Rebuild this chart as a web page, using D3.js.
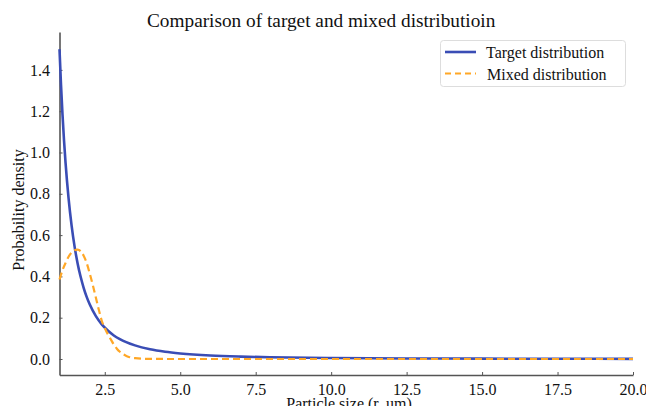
<!DOCTYPE html>
<html><head><meta charset="utf-8">
<script src="https://cdn.jsdelivr.net/npm/d3@7"></script>
<style>body{margin:0;background:#fff}svg{display:block}text{font-family:"Liberation Serif","Times New Roman",serif;fill:#111}</style>
</head><body><svg id="c" width="646" height="406"></svg>
<script>
const title = "Comparison of target and mixed distributioin";
const xLabel = "Particle size (r, um)";
const yLabel = "Probability density";
const xTicks = [2.5,5.0,7.5,10.0,12.5,15.0,17.5,20.0];
const yTicks = [0.0,0.2,0.4,0.6,0.8,1.0,1.2,1.4];
const seriesNames = ["Target distribution","Mixed distribution"];
const targetX = [1.0,1.05,1.1,1.15,1.2,1.3,1.4,1.5,1.6,1.7,1.8,1.9,2.0,2.2,2.4,2.6,2.8,3.0,3.5,4.0,4.5,5.0,6.0,7.0,8.0,10.0,12.5,15.0,17.5,20.0];
const targetY = [1.5,1.328,1.182,1.058,0.951,0.779,0.647,0.544,0.463,0.398,0.345,0.301,0.265,0.209,0.168,0.138,0.114,0.096,0.066,0.047,0.035,0.027,0.017,0.0116,0.0083,0.0047,0.0027,0.0017,0.0012,0.0008];
const mixedX = [1.0,1.1,1.2,1.3,1.4,1.5,1.6,1.7,1.8,1.9,2.0,2.1,2.2,2.3,2.4,2.5,2.6,2.7,2.8,2.9,3.0,3.1,3.2,3.3,3.4,3.5,3.7,4.0,5.0,10.0,20.0];
const mixedY = [0.385,0.43,0.465,0.495,0.515,0.527,0.53,0.522,0.50,0.465,0.415,0.36,0.30,0.24,0.185,0.15,0.12,0.095,0.07,0.05,0.035,0.024,0.016,0.01,0.006,0.004,0.0015,0.0005,0.0,0.0,0.0];

const svg = d3.select("#c");
const x = d3.scaleLinear().domain([1,20]).range([59.5,633]);
const y = d3.scaleLinear().domain([-0.0775,1.5835]).range([375,32]);

const axisColor = "#555";
const gx = svg.append("g").attr("transform","translate(0,375)")
  .call(d3.axisBottom(x).tickValues(xTicks).tickFormat(d3.format(".1f")).tickSizeInner(-3).tickSizeOuter(0).tickPadding(8));
const gy = svg.append("g").attr("transform","translate(59.5,0)")
  .call(d3.axisLeft(y).tickValues(yTicks).tickFormat(d3.format(".1f")).tickSizeInner(-3).tickSizeOuter(0).tickPadding(9.5));
[gx,gy].forEach(g=>{
  g.select(".domain").attr("stroke",axisColor).attr("stroke-width",1.6);
  g.selectAll(".tick line").attr("stroke",axisColor).attr("stroke-width",1);
  g.selectAll(".tick text").attr("font-size",16).attr("fill","#111").attr("font-family",'"Liberation Serif",serif');
});
gx.selectAll(".tick text").attr("dy","0.75em");

const tData = targetX.map((v,i)=>[v,targetY[i]]);
const mData = mixedX.map((v,i)=>[v,mixedY[i]]);
const lineC = d3.line().curve(d3.curveMonotoneX).x(d=>x(d[0])).y(d=>y(d[1]));
svg.append("path").datum(tData).attr("d",lineC).attr("fill","none").attr("stroke","#3a4db5").attr("stroke-width",2.6);
svg.append("path").datum(mData).attr("d",lineC).attr("fill","none").attr("stroke","#ffa726").attr("stroke-width",2.2).attr("stroke-dasharray","7,4");

svg.append("text").attr("x",147).attr("y",27).attr("text-anchor","start").attr("font-size",19.3).text(title);
svg.append("text").attr("x",349).attr("y",409).attr("text-anchor","middle").attr("font-size",16).text(xLabel);
svg.append("text").attr("transform","translate(24,210) rotate(-90)").attr("text-anchor","middle").attr("font-size",16).text(yLabel);

// legend
const lg = svg.append("g");
lg.append("rect").attr("x",440.5).attr("y",40.5).attr("width",185).attr("height",46).attr("rx",3)
  .attr("fill","#fff").attr("stroke","#ddd").attr("stroke-width",1);
const colors = ["#3a4db5","#ffa726"];
seriesNames.forEach((n,i)=>{
  const yy = 52 + i*21.5;
  lg.append("line").attr("x1",445).attr("x2",476).attr("y1",yy).attr("y2",yy)
    .attr("stroke",colors[i]).attr("stroke-width",i?2:2.6).attr("stroke-dasharray",i?"6,4":null);
  lg.append("text").attr("x",i?487:486).attr("y",yy+6).attr("font-size",16).text(n);
});
</script></body></html>
